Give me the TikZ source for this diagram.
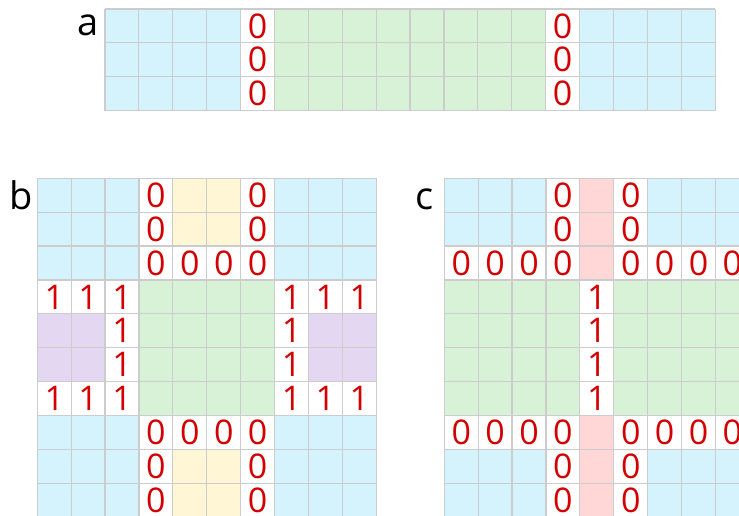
\documentclass[tikz,border=0pt]{standalone}
\usepackage{fontspec}
\setmainfont{Open Sans}

\definecolor{cellblue}{RGB}{213,243,253}
\definecolor{cellgreen}{RGB}{216,242,216}
\definecolor{cellyellow}{RGB}{255,246,214}
\definecolor{cellpurple}{RGB}{227,215,242}
\definecolor{cellred}{RGB}{255,215,215}
\definecolor{digitred}{RGB}{212,0,0}
\definecolor{gridgray}{RGB}{204,204,204}

\tikzset{
	gridline/.style={draw=gridgray, line width=0.6pt},
	digit/.style={text=digitred, inner sep=0pt, font=\fontsize{17}{20}\selectfont},
	panel/.style={anchor=base, inner sep=0pt, font=\fontsize{19}{22}\selectfont}
}

\begin{document}
\begin{tikzpicture}[x=16.95pt, y=16.95pt]
		
		\useasboundingbox (0,0) rectangle (21.8,15.22);
		\clip (0,0) rectangle (21.8,15.22);
		
		% Panel a
		\begin{scope}[shift={(3.097,11.956)}]
			\fill[cellblue] (0,0) rectangle (4,3);
			\fill[cellgreen] (5,0) rectangle (13,3);
			\fill[cellblue] (14,0) rectangle (18,3);
			\foreach \i in {0,...,18} \draw[gridline] (\i,0) -- (\i,3);
			\foreach \j in {0,...,3} \draw[gridline] (0,\j) -- (18,\j);
			\foreach \y [count=\n] in {2.5,1.5,0.5} {
				\node[digit] (a-l\n) at (4.5,\y) {0};
				\node[digit] (a-r\n) at (13.5,\y) {0};
			}
		\end{scope}
		\node[panel] (lbl-a) at (2.596,14.159) {a};
		
		% Panel b
		\begin{scope}[shift={(1.100,-0.039)}]
			\fill[cellblue] (0,7) rectangle (3,10);
			\fill[cellblue] (7,7) rectangle (10,10);
			\fill[cellblue] (0,0) rectangle (3,3);
			\fill[cellblue] (7,0) rectangle (10,3);
			\fill[cellyellow] (4,8) rectangle (6,10);
			\fill[cellyellow] (4,0) rectangle (6,2);
			\fill[cellgreen] (3,3) rectangle (7,7);
			\fill[cellpurple] (0,4) rectangle (2,6); %left
			\fill[cellpurple] (8,4) rectangle (10,6); %right
			\foreach \i in {0,...,10} {
				\draw[gridline] (\i,0) -- (\i,10);
				\draw[gridline] (0,\i) -- (10,\i);
			}
			% zeros
			\foreach \x/\y [count=\n] in {3.5/9.5,3.5/8.5,3.5/7.5,4.5/7.5,5.5/7.5,6.5/7.5,6.5/8.5,6.5/9.5,
				3.5/2.5,3.5/1.5,3.5/0.5,4.5/2.5,5.5/2.5,6.5/2.5,6.5/1.5,6.5/0.5}
				\node[digit] (b-z\n) at (\x,\y) {0};
			% ones
			\foreach \x/\y [count=\n] in {0.5/6.5,1.5/6.5,2.5/6.5,7.5/6.5,8.5/6.5,9.5/6.5,
				2.5/5.5,2.5/4.5,7.5/5.5,7.5/4.5,
				0.5/3.5,1.5/3.5,2.5/3.5,7.5/3.5,8.5/3.5,9.5/3.5}
				\node[digit] (b-o\n) at (\x,\y) {1};
		\end{scope}
		\node[panel] (lbl-b) at (0.634,9.047) {b};
		
		% Panel c
		\begin{scope}[shift={(13.106,-0.039)}]
			\fill[cellblue] (0,8) rectangle (3,10);
			\fill[cellblue] (6,8) rectangle (9,10);
			\fill[cellblue] (0,0) rectangle (3,2);
			\fill[cellblue] (6,0) rectangle (9,2);
			\fill[cellred] (4,7) rectangle (5,10);
			\fill[cellred] (4,0) rectangle (5,3);
			\fill[cellgreen] (0,3) rectangle (4,7);
			\fill[cellgreen] (5,3) rectangle (9,7);
			\foreach \i in {0,...,9} \draw[gridline] (\i,0) -- (\i,10);
			\foreach \j in {0,...,10} \draw[gridline] (0,\j) -- (9,\j);
			% zeros
			\foreach \x/\y [count=\n] in {3.5/9.5,3.5/8.5,5.5/9.5,5.5/8.5,
				0.5/7.5,1.5/7.5,2.5/7.5,3.5/7.5,5.5/7.5,6.5/7.5,7.5/7.5,8.5/7.5,
				0.5/2.5,1.5/2.5,2.5/2.5,3.5/2.5,5.5/2.5,6.5/2.5,7.5/2.5,8.5/2.5,
				3.5/1.5,3.5/0.5,5.5/1.5,5.5/0.5}
				\node[digit] (c-z\n) at (\x,\y) {0};
			% ones
			\foreach \y [count=\n] in {6.5,5.5,4.5,3.5}
				\node[digit] (c-o\n) at (4.5,\y) {1};
		\end{scope}
		\node[panel] (lbl-c) at (12.537,9.047) {c};
		
	\end{tikzpicture}
\end{document}
